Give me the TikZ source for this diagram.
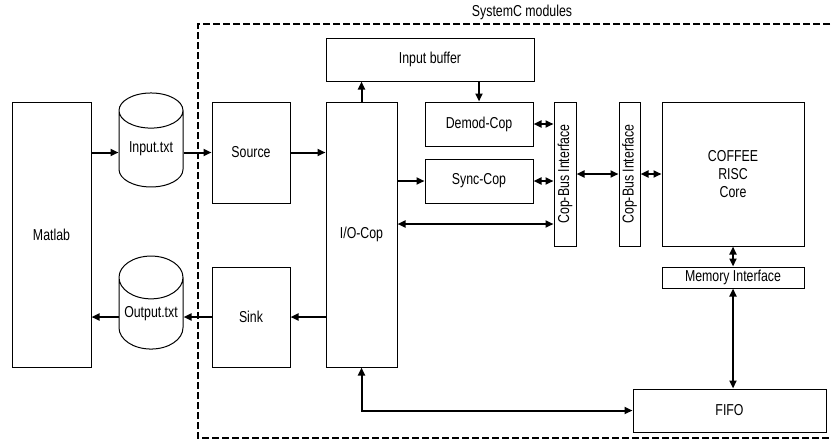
\documentclass[tikz,border=0pt]{standalone}
\usepackage{fontspec}
\setmainfont{Liberation Sans}[FakeStretch=0.78]
\usetikzlibrary{arrows.meta,calc,shapes.geometric}

\begin{document}
\begin{tikzpicture}[x=0.3mm,y=-0.3mm,
  font=\fontsize{13.5}{15}\selectfont,
  blk/.style={draw,line width=0.3mm,inner sep=0pt,align=center},
  sz/.style 2 args={minimum width=#1*0.3mm,minimum height=#2*0.3mm},
  cyl/.style={cylinder,draw,line width=0.3mm,shape border rotate=90,aspect=0.8,inner sep=0pt},
  con/.style={line width=0.6mm,-{Triangle[length=2.4mm,width=2.1mm]}},
  dbl/.style={line width=0.6mm,{Triangle[length=2.4mm,width=2.1mm]}-{Triangle[length=2.4mm,width=2.1mm]}},
  frame/.style={line width=0.45mm,dash pattern=on 2.1mm off 0.9mm}]
\useasboundingbox (0,0) rectangle (832,439);

% SystemC part
\draw[frame] (850,24) -- (198,24) -- (198,438) -- (850,438);
\node (title) at (522,12) {SystemC modules};

\node[blk,sz={79}{265}] (matlab) at (51.5,234.5) {Matlab};
\node[cyl,minimum width=64*0.3mm,minimum height=94*0.3mm] (intxt) at (151,149) {Input.txt};
\node[cyl,minimum width=64*0.3mm,minimum height=93*0.3mm] (outtxt) at (151,313.5) {Output.txt};

\node[blk,sz={78}{101}] (src) at (251,152.5) {Source};
\node[blk,sz={78}{100}] (sink) at (251,317) {Sink};
\node[blk,sz={71}{265}] (io) at (361.5,234.5) {I/O-Cop};
\node[blk,sz={208}{43}] (inbuf) at (430,59.5) {Input buffer};
\node[blk,sz={108}{44}] (demod) at (479,124) {Demod-Cop};
\node[blk,sz={108}{44}] (sync) at (479,181) {Sync-Cop};
\node[blk,sz={22}{144},label={[rotate=90]center:Cop-Bus Interface}] (cbi1) at (565,174) {};
\node[blk,sz={21}{144},label={[rotate=90]center:Cop-Bus Interface}] (cbi2) at (629.5,174) {};
\node[blk,sz={142}{144}] (core) at (733,174) {COFFEE\\RISC\\Core};
\node[blk,sz={142}{21}] (mem) at (733,277.5) {Memory Interface};
\node[blk,sz={193}{43}] (fifo) at (729.5,410.5) {FIFO};

% data flow
\draw[con] (matlab.east|-src) -- (intxt.west|-src);
\draw[con] (intxt.east|-src) -- (src.west);
\draw[con] (src.east) -- (io.west|-src);
\draw[con] (io.north) -- (io.north|-inbuf.south);
\draw[con] (demod.north|-inbuf.south) -- (demod.north);
\draw[con] (io.east|-sync) -- (sync.west);
\draw[dbl] (demod.east) -- (cbi1.west|-demod);
\draw[dbl] (sync.east) -- (cbi1.west|-sync);
\draw[dbl] (cbi1.east) -- (cbi2.west);
\draw[dbl] (cbi2.east) -- (core.west);
\draw[dbl] ([yshift=-15mm]cbi1.west) coordinate (bus) -- (io.east|-bus);
\draw[dbl] (core.south) -- (mem.north);
\draw[dbl] (mem.south) -- (mem.south|-fifo.north);
\draw[dbl] (io.south) |- (fifo.west);
\draw[con] (io.west|-sink) -- (sink.east);
\draw[con] (sink.west) -- (outtxt.east|-sink);
\draw[con] (outtxt.west|-sink) -- (matlab.east|-sink);

\end{tikzpicture}
\end{document}
